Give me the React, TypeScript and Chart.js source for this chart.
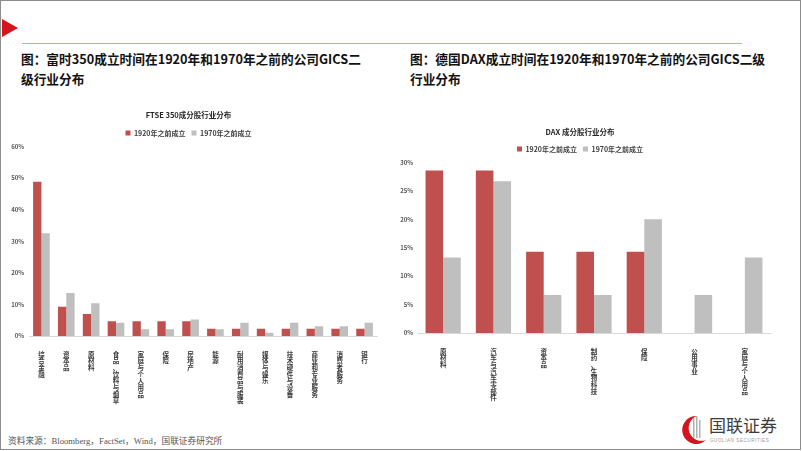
import React, { useEffect, useRef } from "react";
import { Chart, registerables } from "chart.js";

Chart.register(...registerables);

const ftseCategories = [
  "综合金融", "资本品", "原材料", "食品、饮料与烟草", "家庭与个人用品", "保险", "房地产",
  "能源", "耐用消费品与服装", "媒体与娱乐", "技术硬件与设备", "商业和专业服务", "消费者服务", "银行",
];
const ftse1920 = [48.8, 9.3, 7.0, 4.7, 4.7, 4.7, 4.7, 2.3, 2.3, 2.3, 2.3, 2.3, 2.3, 2.3];
const ftse1970 = [32.5, 13.6, 10.4, 4.2, 2.1, 2.1, 5.2, 2.1, 4.2, 1.0, 4.2, 3.1, 3.1, 4.2];

const daxCategories = ["原材料", "汽车与汽车零部件", "资本品", "制药、生物科技", "保险", "公用事业", "家庭与个人用品"];
const dax1920 = [28.6, 28.6, 14.3, 14.3, 14.3, 0, 0];
const dax1970 = [13.3, 26.7, 6.7, 6.7, 20.0, 6.7, 13.3];

const seriesNames = ["1920年之前成立", "1970年之前成立"];
const ftseTicks = { min: 0, max: 60, step: 10 };
const daxTicks = { min: 0, max: 30, step: 5 };

const RED = "#c0504d";
const GRAY = "#bfbfbf";
const FONT = "'Noto Sans CJK SC', 'Noto Sans', sans-serif";

type Cfg = {
  title: string;
  cats: string[];
  a: number[];
  b: number[];
  ticks: { min: number; max: number; step: number };
  catPct: number;
  yWidth: number;
  xHeight: number;
  padRight: number;
  titlePadTop: number;
  titlePadBottom: number;
};

function BarChart({ cfg, style }: { cfg: Cfg; style: React.CSSProperties }) {
  const ref = useRef<HTMLCanvasElement | null>(null);
  useEffect(() => {
    if (!ref.current) return;
    const chart = new Chart(ref.current, {
      type: "bar",
      data: {
        labels: cfg.cats.map((c) => Array.from(c)),
        datasets: [
          { label: seriesNames[0], data: cfg.a, backgroundColor: RED, categoryPercentage: cfg.catPct, barPercentage: 1 },
          { label: seriesNames[1], data: cfg.b, backgroundColor: GRAY, categoryPercentage: cfg.catPct, barPercentage: 1 },
        ],
      },
      options: {
        animation: false,
        responsive: false,
        maintainAspectRatio: false,
        layout: { padding: { left: 0, right: cfg.padRight, top: 0, bottom: 0 } },
        plugins: {
          title: {
            display: true,
            text: cfg.title,
            color: "#262626",
            font: { family: FONT, size: 7.5, weight: "bold", lineHeight: 1.2 },
            padding: { top: cfg.titlePadTop, bottom: cfg.titlePadBottom },
          },
          legend: {
            display: true,
            labels: {
              boxWidth: 5,
              boxHeight: 5,
              padding: 6,
              color: "#404040",
              font: { family: FONT, size: 7, weight: "bold" },
            },
          },
          tooltip: { enabled: false },
        },
        scales: {
          x: {
            grid: { display: false },
            border: { display: true, color: "#d9d9d9", width: 1 },
            ticks: {
              autoSkip: false,
              maxRotation: 0,
              minRotation: 0,
              padding: 7,
              color: "#3a3a3a",
              font: { family: FONT, size: 6.5, weight: "bold", lineHeight: 1.02 },
            },
            afterFit: (s: any) => {
              s.height = cfg.xHeight;
            },
          },
          y: {
            min: cfg.ticks.min,
            max: cfg.ticks.max,
            grid: { display: false, drawTicks: false },
            border: { display: false },
            ticks: {
              stepSize: cfg.ticks.step,
              padding: 5,
              color: "#595959",
              font: { family: FONT, size: 6, weight: "bold" },
              callback: (v: any) => v + "%",
            },
            afterFit: (s: any) => {
              s.width = cfg.yWidth;
            },
          },
        },
      },
    });
    return () => chart.destroy();
  }, []);
  return <canvas ref={ref} width={style.width as number} height={style.height as number} style={{ position: "absolute", ...style }} />;
}

const ftseCfg: Cfg = {
  title: "FTSE 350成分股行业分布",
  cats: ftseCategories,
  a: ftse1920,
  b: ftse1970,
  ticks: ftseTicks,
  catPct: 0.67,
  yWidth: 29,
  xHeight: 69,
  padRight: 15,
  titlePadTop: 10.5,
  titlePadBottom: 4,
};

const daxCfg: Cfg = {
  title: "DAX 成分股行业分布",
  cats: daxCategories,
  a: dax1920,
  b: dax1970,
  ticks: daxTicks,
  catPct: 0.7,
  yWidth: 28,
  xHeight: 72,
  padRight: 32,
  titlePadTop: 12.5,
  titlePadBottom: 3,
};

export default function App() {
  const titleStyle: React.CSSProperties = {
    position: "absolute",
    fontFamily: FONT,
    fontWeight: 700,
    fontSize: 12.7,
    lineHeight: "20px",
    color: "#111",
    whiteSpace: "nowrap",
  };
  return (
    <div style={{ position: "absolute", left: 0, top: 0, width: 802, height: 451, background: "#fff", overflow: "hidden" }}>
      <div style={{ position: "absolute", left: 0, top: 0, width: 799, height: 448, border: "1.5px solid #8c8c8c", boxSizing: "content-box" }} />
      <svg style={{ position: "absolute", left: 0, top: 0 }} width={802} height={451}>
        <polygon points="2,19 2,37 18,28" fill="#d7141d" />
        <line x1={22} y1={43.5} x2={742} y2={43.5} stroke="#ee9a9a" strokeWidth={1} />
        <g>
          <path d="M697 416 A14 14 0 1 0 706 440 A11 11 0 1 1 697 416 Z" fill="#d7141d" />
          <rect x={693} y={418} width={1.5} height={20} fill="#b0b0b0" />
          <rect x={696} y={416} width={1.5} height={22} fill="#b0b0b0" />
          <rect x={699} y={420} width={1.5} height={18} fill="#b0b0b0" />
        </g>
      </svg>
      <div style={{ ...titleStyle, left: 21, top: 49 }}>
        图：富时350成立时间在1920年和1970年之前的公司GICS二<br />级行业分布
      </div>
      <div style={{ ...titleStyle, left: 410, top: 49 }}>
        图：德国DAX成立时间在1920年和1970年之前的公司GICS二级<br />行业分布
      </div>
      <BarChart cfg={ftseCfg} style={{ left: 0, top: 100, width: 392, height: 305 }} />
      <BarChart cfg={daxCfg} style={{ left: 390, top: 115, width: 412, height: 290 }} />
      <div
        style={{
          position: "absolute",
          left: 8,
          top: 434,
          fontFamily: "'Liberation Serif', 'Noto Sans CJK SC', serif",
          fontSize: 8.7,
          color: "#555",
          whiteSpace: "nowrap",
        }}
      >
        资料来源：Bloomberg，FactSet，Wind，国联证券研究所
      </div>
      <div style={{ position: "absolute", left: 709, top: 415, fontFamily: FONT, fontSize: 17, lineHeight: "20px", color: "#3c3c3c", whiteSpace: "nowrap" }}>
        国联证券
      </div>
      <div style={{ position: "absolute", left: 710, top: 438, fontFamily: "'Liberation Sans', sans-serif", fontSize: 4.5, color: "#999", whiteSpace: "nowrap", letterSpacing: 0.6 }}>
        GUOLIAN SECURITIES
      </div>
    </div>
  );
}
